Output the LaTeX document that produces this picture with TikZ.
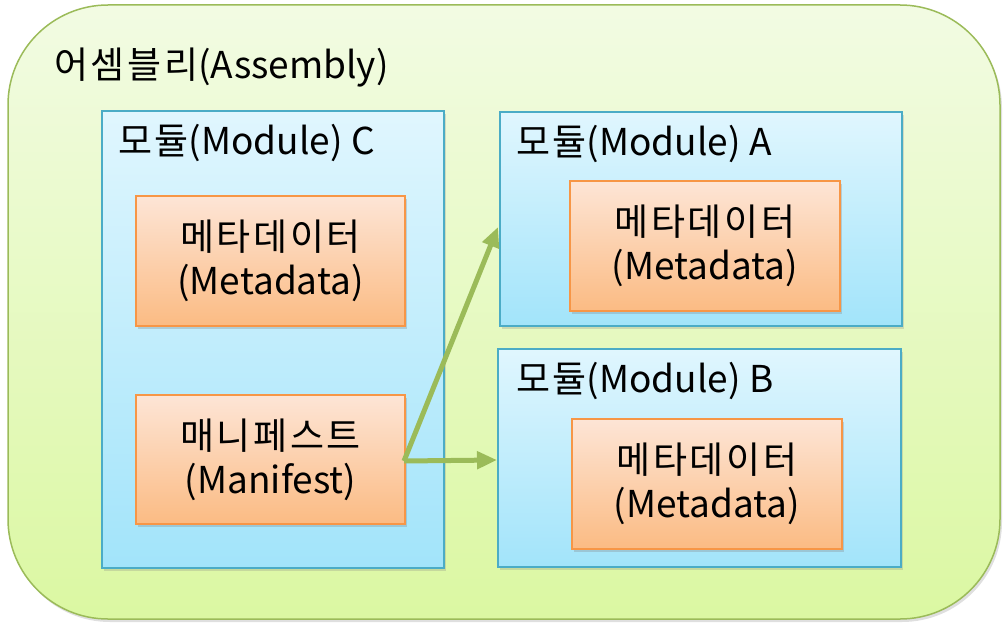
\documentclass[tikz,border=0pt]{standalone}
\usepackage{fontspec}
\setmainfont{Noto Sans CJK KR}
\newfontfamily\hgf[LetterSpace=7]{Noto Sans CJK KR}
\newcommand{\hg}[1]{{\hgf #1}}
\usetikzlibrary{arrows.meta,shadows,calc}
\definecolor{grnB}{HTML}{9BBB59}
\definecolor{grnT}{HTML}{F2FBE3}
\definecolor{grnBt}{HTML}{DBF8A2}
\definecolor{bluB}{HTML}{4BACC6}
\definecolor{bluT}{HTML}{E0F6FE}
\definecolor{bluBt}{HTML}{A2E4FA}
\definecolor{orB}{HTML}{F79646}
\definecolor{orT}{HTML}{FDE5D6}
\definecolor{orBt}{HTML}{FBBB83}
\tikzset{
  lbl/.style={font=\fontsize{37}{44}\selectfont, inner sep=0pt, anchor=west},
  outerbox/.style={draw=grnB, line width=1.5pt, rounded corners=100pt, top color=grnT, bottom color=grnBt,
    drop shadow={shadow xshift=2pt, shadow yshift=-3pt, opacity=0.25}},
  modbox/.style={draw=bluB, line width=1.5pt, top color=bluT, bottom color=bluBt,
    drop shadow={shadow xshift=2pt, shadow yshift=-3pt, opacity=0.25}},
  itembox/.style={draw=orB, line width=1.5pt, top color=orT, bottom color=orBt,
    drop shadow={shadow xshift=2pt, shadow yshift=-3pt, opacity=0.3},
    align=center, font=\fontsize{37}{44}\selectfont, inner sep=0pt},
  link/.style={draw=grnB, line width=5pt, -{Triangle[length=20pt,width=17pt]}}
}
\begin{document}
\begin{tikzpicture}[x=1pt,y=-1pt]
\useasboundingbox (0,0) rectangle (1008,631);
\path[outerbox] (8,5) rectangle (1000,619);
\node[lbl] (asm) at (54,68) {\hg{어셈블리}(Assembly)};
% modules
\path[modbox] (102,111) rectangle (444,568);
\node[lbl] (mc) at (118,143) {\hg{모듈}(Module) C};
\path[modbox] (500,112) rectangle (902,326);
\node[lbl] (ma) at (516,144) {\hg{모듈}(Module) A};
\path[modbox] (498,349) rectangle (901,567);
\node[lbl] (mb) at (516,381) {\hg{모듈}(Module) B};
% items
\node[itembox, minimum width=269pt, minimum height=130pt] (metC) at (270.5,261) {\hg{메타데이터}\\(Metadata)};
\node[itembox, minimum width=269pt, minimum height=129pt] (man) at (270.5,459.5) {\hg{매니페스트}\\(Manifest)};
\node[itembox, minimum width=270pt, minimum height=130pt] (metA) at (705,246) {\hg{메타데이터}\\(Metadata)};
\node[itembox, minimum width=270pt, minimum height=130pt] (metB) at (707,484) {\hg{메타데이터}\\(Metadata)};
% arrows
\coordinate (ta) at (498,227);
\coordinate (tb) at (497,460);
\coordinate (src) at (404,461);
\draw[link] (src) -- (ta);
\draw[link] (src) -- (tb);
\end{tikzpicture}
\end{document}
